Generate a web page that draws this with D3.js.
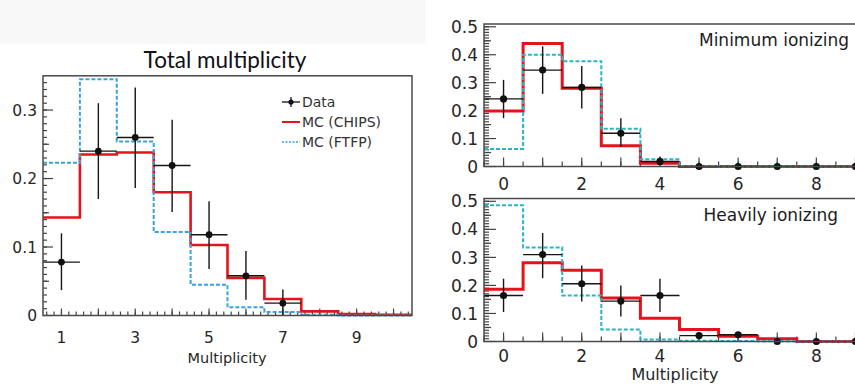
<!DOCTYPE html>
<html>
<head>
<meta charset="utf-8">
<script src="https://cdn.jsdelivr.net/npm/d3@7"></script>
<style>
  body { margin: 0; background: #fff; }
  svg { display: block; }
  text { font-family: "DejaVu Sans", sans-serif; fill: #262626; }
</style>
</head>
<body>
<svg id="chart" width="855" height="386"></svg>
<script>
// ---- Total multiplicity (left) ----
const totalBins = [1, 2, 3, 4, 5, 6, 7, 8, 9, 10];
const totalChips = [0.143, 0.235, 0.238, 0.180, 0.103, 0.055, 0.024, 0.006, 0.002, 0.001];
const totalFtfp = [0.223, 0.345, 0.254, 0.122, 0.045, 0.012, 0.005, 0.001, 0.0, 0.0];
const totalDataX = [1, 2, 3, 4, 5, 6, 7];
const totalData = [0.078, 0.240, 0.260, 0.219, 0.118, 0.058, 0.018];
const totalErrHi = [0.120, 0.310, 0.333, 0.286, 0.167, 0.094, 0.038];
const totalErrLo = [0.037, 0.170, 0.186, 0.151, 0.068, 0.023, 0.000];
const totalXLabels = [1, 3, 5, 7, 9];
const totalYLabels = [0, 0.1, 0.2, 0.3];

// ---- Minimum / Heavily ionizing (right) ----
const ionBins = [0, 1, 2, 3, 4, 5, 6, 7, 8, 9];
const minChips = [0.199, 0.440, 0.280, 0.074, 0.012, 0, 0, 0, 0, 0];
const minFtfp = [0.063, 0.400, 0.377, 0.135, 0.026, 0.002, 0, 0, 0, 0];
const minData = [0.242, 0.345, 0.283, 0.119, 0.018, 0, 0, 0, 0, 0];
const minErrHi = [0.310, 0.430, 0.360, 0.173, 0.036, 0, 0, 0, 0, 0];
const minErrLo = [0.173, 0.260, 0.208, 0.071, 0.006, 0, 0, 0, 0, 0];

const heavyChips = [0.186, 0.281, 0.254, 0.155, 0.083, 0.043, 0.019, 0.010, 0, 0];
const heavyFtfp = [0.486, 0.335, 0.164, 0.043, 0.007, 0.003, 0.002, 0.001, 0, 0];
const heavyData = [0.164, 0.310, 0.206, 0.144, 0.164, 0.021, 0.024, 0, 0, 0];
const heavyErrHi = [0.224, 0.387, 0.271, 0.200, 0.224, 0.021, 0.024, 0, 0, 0];
const heavyErrLo = [0.105, 0.226, 0.143, 0.089, 0.105, 0.021, 0.024, 0, 0, 0];

const ionXLabels = [0, 2, 4, 6, 8];
const ionYLabels = [0, 0.1, 0.2, 0.3, 0.4, 0.5];

const svg = d3.select("#chart");

// faint grey band behind the left title
svg.append("rect").attr("x", 0).attr("y", 0).attr("width", 425).attr("height", 44).attr("fill", "#f8f8f8");

function drawPanel(p) {
  const g = svg.append("g");
  const x = p.x, y = p.y;
  const [x0, x1] = x.range();
  const [yb, yt] = y.range();

  // ticks, drawn inside the frame
  const tick = (vals, len, axis) => {
    g.append("g").selectAll("line").data(vals).join("line")
      .attr("x1", d => axis == "x" ? x(d) : x0)
      .attr("x2", d => axis == "x" ? x(d) : x0 + len)
      .attr("y1", d => axis == "x" ? yb : y(d))
      .attr("y2", d => axis == "x" ? yb - len : y(d))
      .attr("stroke", "#444").attr("stroke-width", 1.2);
  };
  tick(p.xMinor, p.minorLen, "x");
  tick(p.xMajor, p.majorLen, "x");
  tick(p.yMinor, p.minorLen, "y");
  tick(p.yMid, p.midLen, "y");
  tick(p.yLabels, p.majorLen + 3, "y");

  // histograms: red first, dashed cyan above it
  const step = (vals) => {
    const pts = [];
    p.bins.forEach((b, i) => { pts.push([b - 0.5, vals[i]]); pts.push([b + 0.5, vals[i]]); });
    return d3.line().x(d => x(d[0])).y(d => y(d[1]))(pts);
  };
  g.append("path").attr("d", step(p.chips)).attr("fill", "none")
    .attr("stroke", "#e3141c").attr("stroke-width", p.redWidth);
  g.append("path").attr("d", step(p.ftfp)).attr("fill", "none")
    .attr("stroke", p.cyan).attr("stroke-width", 2).attr("stroke-dasharray", "4,2");

  // data with error bars
  const pts = p.dataX.map((d, i) => ({ x: d, v: p.data[i], hi: p.errHi[i], lo: p.errLo[i] }));
  const dg = g.append("g").attr("stroke", "#151515").attr("stroke-width", 1.4);
  dg.selectAll(".eh").data(pts.filter(d => d.v > 0)).join("line")
    .attr("x1", d => x(d.x - 0.5)).attr("x2", d => x(d.x + 0.5))
    .attr("y1", d => y(d.v)).attr("y2", d => y(d.v));
  dg.selectAll(".ev").data(pts.filter(d => d.hi > d.lo)).join("line")
    .attr("x1", d => x(d.x)).attr("x2", d => x(d.x))
    .attr("y1", d => y(d.hi)).attr("y2", d => y(d.lo));
  g.selectAll("circle").data(pts).join("circle")
    .attr("cx", d => x(d.x)).attr("cy", d => y(d.v)).attr("r", p.r).attr("fill", "#111");

  // frame
  g.append("rect").attr("x", x0).attr("y", yt).attr("width", x1 - x0).attr("height", yb - yt)
    .attr("fill", "none").attr("stroke", "#4a4a4a").attr("stroke-width", 1.5);

  // tick labels
  g.selectAll(".xl").data(p.xLabels).join("text")
    .attr("x", d => x(d)).attr("y", p.xLabelY).attr("text-anchor", "middle")
    .attr("font-size", p.fs).text(d => d);
  g.selectAll(".yl").data(p.yLabels).join("text")
    .attr("x", x0 - p.yGap).attr("y", d => y(d)).attr("dy", "0.36em").attr("text-anchor", "end")
    .attr("font-size", p.fs).text(d => d);
  if (p.xTitle) {
    g.append("text").attr("x", p.xTitle[0]).attr("y", p.xTitle[1]).attr("text-anchor", "middle")
      .attr("font-size", p.titleFs).text("Multiplicity");
  }
  if (p.label) {
    g.append("text").attr("x", p.label[0]).attr("y", p.label[1]).attr("text-anchor", "end")
      .attr("font-size", 17).style("fill", "#1c1c1c").text(p.label[2]);
  }
}

// left panel
const xT = d3.scaleLinear().domain([0.5, 10.5]).range([43, 412]);
const yT = d3.scaleLinear().domain([0, 0.35]).range([315.5, 75.8]);
drawPanel({
  x: xT, y: yT, bins: totalBins, chips: totalChips, ftfp: totalFtfp,
  dataX: totalDataX, data: totalData, errHi: totalErrHi, errLo: totalErrLo,
  xMinor: d3.range(0.6, 10.5, 0.2), xMajor: d3.range(1, 11, 1),
  yMinor: d3.range(0.01, 0.35, 0.01), yMid: [0.05, 0.15, 0.25],
  yLabels: totalYLabels, xLabels: totalXLabels,
  minorLen: 4, midLen: 6, majorLen: 7, redWidth: 2.6, cyan: "#3aa2da", r: 3.4,
  fs: 15.5, yGap: 6, xLabelY: 343, xTitle: [227, 363], titleFs: 14.5
});

svg.append("text").attr("x", 225).attr("y", 68).attr("text-anchor", "middle")
  .style("font-family", "Lato, sans-serif").style("fill", "#101018")
  .attr("font-size", 22.5).text("Total multiplicity");

// legend
const leg = svg.append("g").attr("font-size", 14);
const legRows = [
  { name: "Data", y: 102 },
  { name: "MC (CHIPS)", y: 122 },
  { name: "MC (FTFP)", y: 142 }
];
leg.selectAll("text").data(legRows).join("text")
  .attr("x", 302).attr("y", d => d.y).attr("dy", "0.36em").style("fill", "#333").text(d => d.name);
leg.append("line").attr("x1", 282).attr("x2", 300).attr("y1", 102).attr("y2", 102).attr("stroke", "#111").attr("stroke-width", 1.3);
leg.append("line").attr("x1", 291).attr("x2", 291).attr("y1", 97).attr("y2", 107).attr("stroke", "#111").attr("stroke-width", 1.3);
leg.append("circle").attr("cx", 291).attr("cy", 102).attr("r", 2.6).attr("fill", "#111");
leg.append("line").attr("x1", 282).attr("x2", 300).attr("y1", 122).attr("y2", 122).attr("stroke", "#e3141c").attr("stroke-width", 2);
leg.append("line").attr("x1", 282).attr("x2", 300).attr("y1", 142).attr("y2", 142).attr("stroke", "#3aa2da").attr("stroke-width", 1.5).attr("stroke-dasharray", "2,1.5");

// right panels
const xI = d3.scaleLinear().domain([-0.5, 9.5]).range([484, 875]);
const ionCommon = {
  x: xI, bins: ionBins, dataX: ionBins,
  xMinor: d3.range(-0.5, 9.6, 0.5), xMajor: d3.range(0, 10, 1),
  yMinor: d3.range(0.01, 0.51, 0.01), yMid: [0.05, 0.15, 0.25, 0.35, 0.45],
  yLabels: ionYLabels, xLabels: ionXLabels,
  minorLen: 5, midLen: 7, majorLen: 9, redWidth: 3, cyan: "#26b6c6", r: 3.6,
  fs: 17, yGap: 6
};
drawPanel(Object.assign({}, ionCommon, {
  y: d3.scaleLinear().domain([0, 0.51]).range([166.5, 24]),
  chips: minChips, ftfp: minFtfp, data: minData, errHi: minErrHi, errLo: minErrLo,
  xLabelY: 190, label: [849, 46, "Minimum ionizing"]
}));
drawPanel(Object.assign({}, ionCommon, {
  y: d3.scaleLinear().domain([0, 0.51]).range([341.5, 198.5]),
  chips: heavyChips, ftfp: heavyFtfp, data: heavyData, errHi: heavyErrHi, errLo: heavyErrLo,
  xLabelY: 362, label: [838, 221, "Heavily ionizing"], xTitle: [675, 380], titleFs: 16
}));
</script>
</body>
</html>
